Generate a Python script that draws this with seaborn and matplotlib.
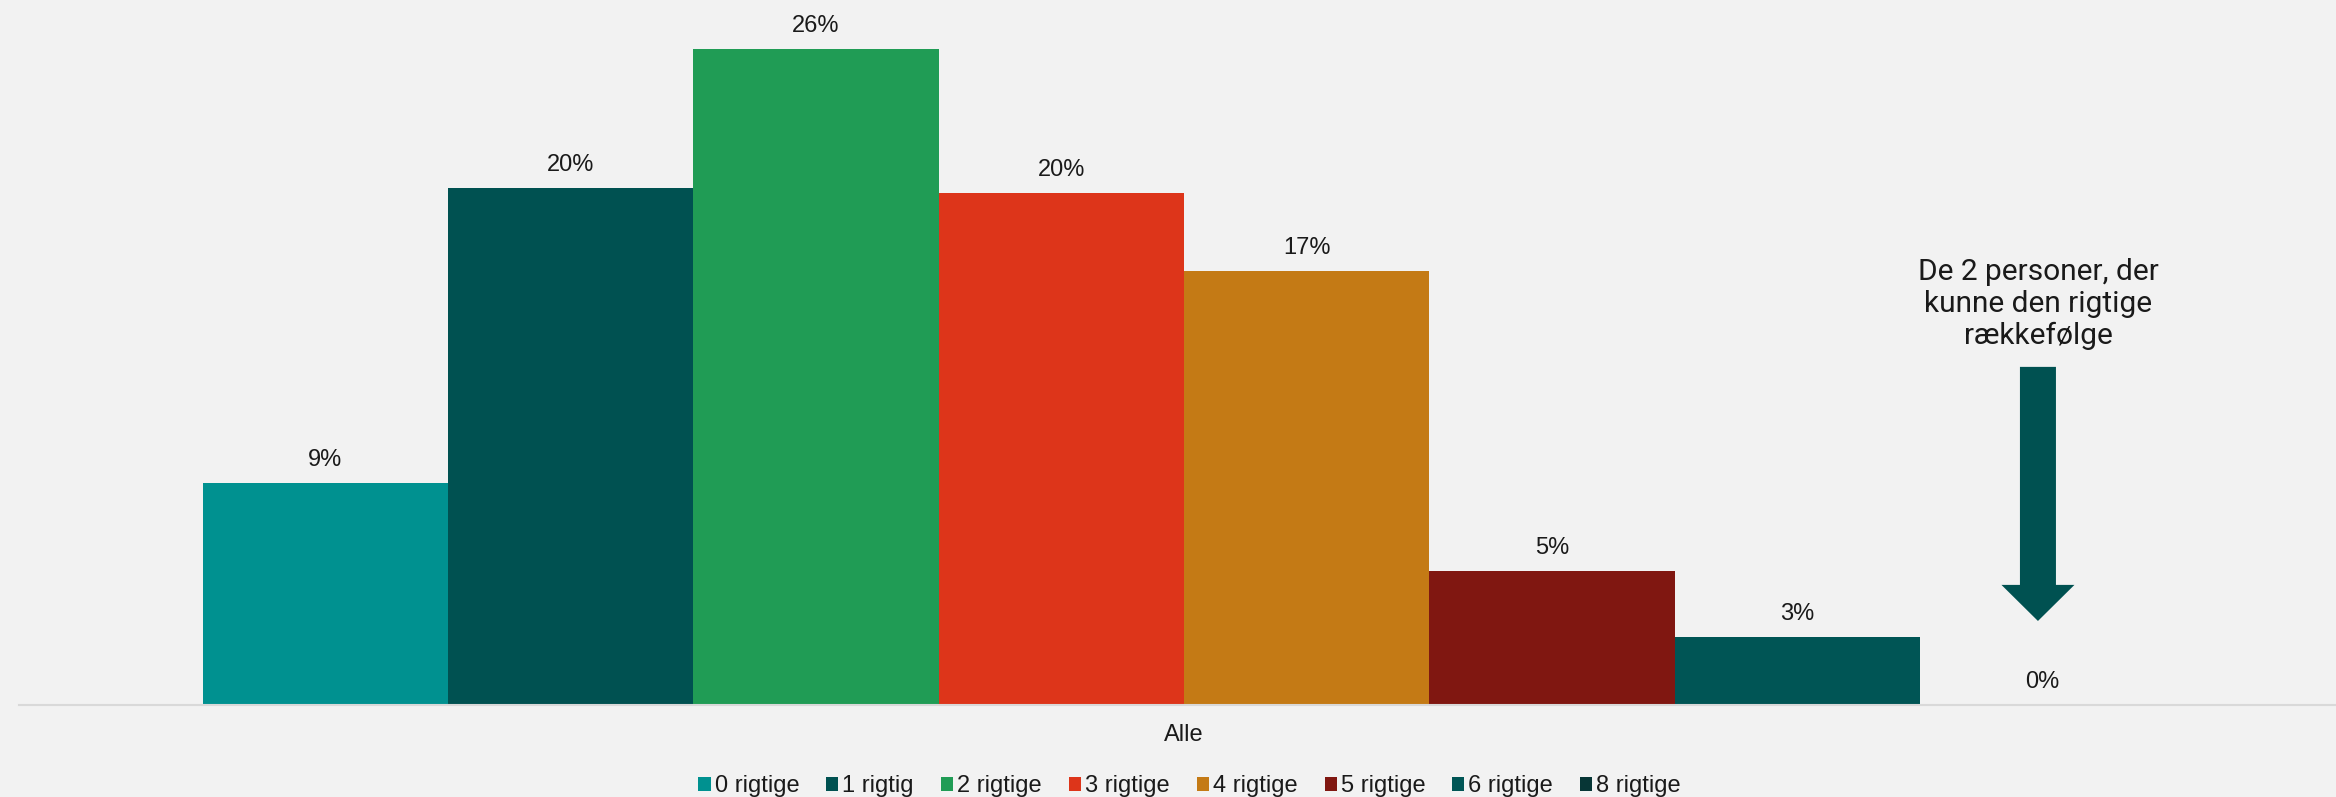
import matplotlib
matplotlib.use("Agg")
import matplotlib.pyplot as plt
from matplotlib.patches import FancyArrow
import pandas as pd
import seaborn as sns

# Share of respondents by number of correctly ordered items
group = ["Alle"]
categories = ["0 rigtige", "1 rigtig", "2 rigtige", "3 rigtige",
              "4 rigtige", "5 rigtige", "6 rigtige", "8 rigtige"]
values = [8.8, 20.5, 26.0, 20.3, 17.2, 5.3, 2.7, 0.0]
colors = ["#009190", "#005151", "#209C55", "#DD351A",
          "#C47A15", "#801711", "#005555", "#073636"]
note = "De 2 personer, der\nkunne den rigtige\nrækkefølge"

df = pd.DataFrame({"gruppe": group * len(categories),
                   "kategori": categories,
                   "andel": values})

sns.set_theme(style="white")
plt.rcParams["font.family"] = ["Liberation Sans", "DejaVu Sans"]

bg = "#F2F2F2"
fig = plt.figure(figsize=(23.36, 7.97), dpi=100, facecolor=bg)
ax = fig.add_axes([19 / 2336, 92 / 797, 1 - 19 / 2336, 1 - 92 / 797])
ax.set_facecolor(bg)

sns.barplot(data=df, x="gruppe", y="andel", hue="kategori",
            hue_order=categories, palette=colors, width=0.847, gap=0,
            saturation=1, errorbar=None, legend=True, ax=ax,
            linewidth=0)

ax.set_xlim(-0.5028, 0.4972)
ax.set_ylim(0, 27.94)

for cont in ax.containers:
    ax.bar_label(cont, fmt="{:.0f}%", padding=8.6, fontsize=17,
                 color="#1a1a1a")

# arrow and note above the last bar
last_bar = ax.containers[-1][0]
xc = last_bar.get_x() + last_bar.get_width() / 2 - 0.002
y_top, y_tip = 13.40, 3.33
ax.add_patch(FancyArrow(xc, y_top, 0, y_tip - y_top, width=0.01554,
                        head_width=0.0315, head_length=1.43,
                        length_includes_head=True, color="#005151",
                        linewidth=0))
ax.text(xc, 17.73, note, ha="center", va="top", fontsize=21.5,
        family=["Roboto", "DejaVu Sans"], color="#1a1a1a",
        linespacing=1.18)

ax.set_xlabel("")
ax.set_ylabel("")
ax.set_yticks([])
ax.tick_params(axis="x", length=0, pad=14, labelsize=17, labelcolor="#1a1a1a")
for s in ["top", "left", "right"]:
    ax.spines[s].set_visible(False)
ax.spines["bottom"].set_color("#D9D9D9")
ax.spines["bottom"].set_linewidth(1.5)

handles, labels = ax.get_legend_handles_labels()
ax.get_legend().remove()
fig.legend(handles, labels, loc="lower center", bbox_to_anchor=(0.5093, 0.0),
           ncol=8, frameon=False, fontsize=17, handlelength=0.51,
           handleheight=0.55, handletextpad=0.17, columnspacing=1.15,
           borderpad=0, borderaxespad=0, labelcolor="#1a1a1a")

fig.savefig("out.png", dpi=100, facecolor=bg)
